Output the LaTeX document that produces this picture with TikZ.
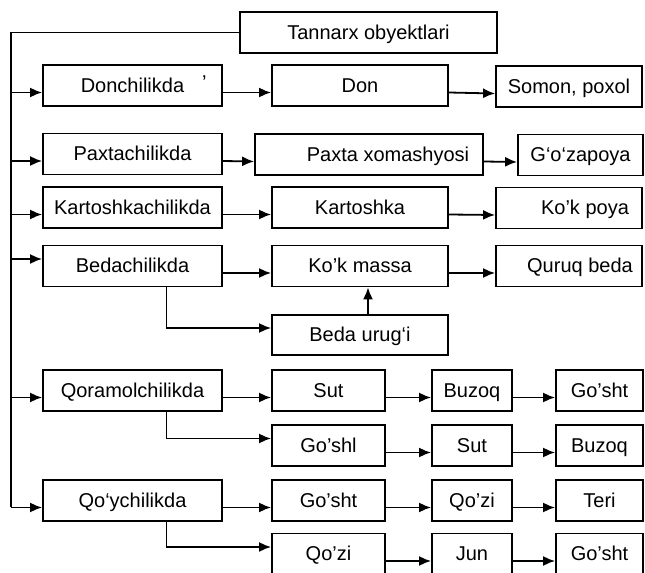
\documentclass[tikz,border=0pt]{standalone}
\usepackage{fontspec}
\setmainfont{Liberation Sans}
\usetikzlibrary{arrows.meta}

\tikzset{
  box/.style={draw, line width=0.9pt, inner sep=1pt, minimum height=20.5pt,
    text height=9pt, text depth=2pt,
    font=\fontsize{10}{12}\selectfont},
  firstcol/.style={box, minimum width=89.5pt},
  secondcol/.style={box, minimum width=88pt},
  thirdcol/.style={box, minimum width=73pt},
  arr/.style={line width=0.9pt, -{Latex[length=6pt,width=5pt]}},
  plain/.style={line width=0.9pt}
}
\newcommand{\arrlo}{-3.5pt}
\newcommand{\arrhi}{3.5pt}

\begin{document}
\begin{tikzpicture}[x=0.5pt,y=-0.5pt]
	\useasboundingbox (0,0) rectangle (645,573);
	\clip (0,0) rectangle (645,573);
	
	\node[box, minimum width=128.5pt] (tannarx) at (368.5,32.5) {Tannarx obyektlari};
	\coordinate (trunk) at (11,0);
	
	% dehqonchilik
	\node[firstcol] (donchi) at (132.5,85.5) {Donchilikda\rlap{\hspace{9pt}\raisebox{1.5pt}{’}}};
	\node[secondcol] (don) at (360,85.5) {Don};
	\node[thirdcol] (somon) at (569,86.5) {Somon, poxol};
	
	\node[firstcol] (paxtachi) at (132.5,154) {Paxtachilikda};
	\node[box, minimum width=114pt] (paxta) at (369,154.5) {\hspace*{19pt}Paxta xomashyosi};
	\node[box, minimum width=62.5pt] (gozapoya) at (580.5,155) {G‘o‘zapoya};
	
	\node[firstcol] (kartochi) at (132.5,207.5) {Kartoshkachilikda};
	\node[secondcol] (kartoshka) at (360,207.5) {Kartoshka};
	\node[thirdcol] (kokpoya) at (569,208) {\hspace*{16pt}Ko’k poya};
	
	\node[firstcol] (bedachi) at (132.5,266) {Bedachilikda};
	\node[secondcol] (kokmassa) at (360,266) {Ko’k massa};
	\node[thirdcol] (quruq) at (569,266) {\hspace*{11pt}Quruq beda};
	\node[secondcol, minimum height=20pt] (urug) at (360,335) {Beda urug‘i};
	
	% chorvachilik
	\node[firstcol] (qoramol) at (132.5,390.5) {Qoramolchilikda};
	\node[box, minimum width=56.5pt] (sutA) at (328.5,390.5) {Sut};
	\node[box, minimum width=40pt] (buzoqA) at (472,390.5) {Buzoq};
	\node[box, minimum width=43.5pt] (goshtA) at (599.5,390.5) {Go’sht};
	
	\node[box, minimum width=56.5pt] (goshtB) at (328.5,445.5) {Go’shl};
	\node[box, minimum width=40pt] (sutB) at (472,445.5) {Sut};
	\node[box, minimum width=43.5pt] (buzoqB) at (599.5,445.5) {Buzoq};
	
	\node[firstcol] (qoy) at (132.5,500.5) {Qo‘ychilikda};
	\node[box, minimum width=56.5pt] (goshtC) at (328.5,500.5) {Go’sht};
	\node[box, minimum width=40pt] (qoziC) at (472,500.5) {Qo’zi};
	\node[box, minimum width=43.5pt] (teri) at (599.5,500.5) {Teri};
	
	\node[box, minimum width=56.5pt] (qoziD) at (328.5,554) {Qo’zi};
	\node[box, minimum width=40pt] (jun) at (472,554) {Jun};
	\node[box, minimum width=43.5pt] (goshtD) at (599.5,554) {Go’sht};
	
	% chap tomondagi chiziq
	\draw[plain] (tannarx.west) -| ([yshift=\arrlo]qoy.west -| trunk);
	\draw[arr] ([yshift=\arrlo]donchi.west -| trunk) -- ([yshift=\arrlo]donchi.west);
	\draw[arr] ([yshift=\arrlo]paxtachi.west -| trunk) -- ([yshift=\arrlo]paxtachi.west);
	\draw[arr] ([yshift=\arrlo]kartochi.west -| trunk) -- ([yshift=\arrlo]kartochi.west);
	\draw[arr] ([yshift=\arrhi]bedachi.west -| trunk) -- ([yshift=\arrhi]bedachi.west);
	\draw[arr] ([yshift=\arrlo]qoramol.west -| trunk) -- ([yshift=\arrlo]qoramol.west);
	\draw[arr] ([yshift=\arrlo]qoy.west -| trunk) -- ([yshift=\arrlo]qoy.west);
	
	\draw[arr] ([yshift=\arrlo]donchi.east) -- ([yshift=\arrlo]don.west);
	\draw[arr] ([yshift=\arrlo]don.east) -- ([yshift=\arrlo]somon.west);
	\draw[arr] ([yshift=\arrlo]paxtachi.east) -- ([yshift=\arrlo]paxta.west);
	\draw[arr] ([yshift=\arrlo]paxta.east) -- ([yshift=\arrlo]gozapoya.west);
	\draw[arr] ([yshift=\arrlo]kartochi.east) -- ([yshift=\arrlo]kartoshka.west);
	\draw[arr] ([yshift=\arrlo]kartoshka.east) -- ([yshift=\arrlo]kokpoya.west);
	\draw[arr] ([yshift=\arrlo]bedachi.east) -- ([yshift=\arrlo]kokmassa.west);
	\draw[arr] ([yshift=\arrlo]kokmassa.east) -- ([yshift=\arrlo]quruq.west);
	\draw[arr] ([xshift=17pt]bedachi.south) |- ([yshift=\arrhi]urug.west);
	\draw[arr] ([xshift=4pt]urug.north) -- ([xshift=4pt]kokmassa.south);
	
	\draw[arr] ([yshift=\arrlo]qoramol.east) -- ([yshift=\arrlo]sutA.west);
	\draw[arr] ([yshift=\arrlo]sutA.east) -- ([yshift=\arrlo]buzoqA.west);
	\draw[arr] ([yshift=\arrlo]buzoqA.east) -- ([yshift=\arrlo]goshtA.west);
	\draw[arr] ([xshift=17pt]qoramol.south) |- ([yshift=\arrhi]goshtB.west);
	\draw[arr] ([yshift=\arrlo]goshtB.east) -- ([yshift=\arrlo]sutB.west);
	\draw[arr] ([yshift=\arrlo]sutB.east) -- ([yshift=\arrlo]buzoqB.west);
	
	\draw[arr] ([yshift=\arrlo]qoy.east) -- ([yshift=\arrlo]goshtC.west);
	\draw[arr] ([yshift=\arrlo]goshtC.east) -- ([yshift=\arrlo]qoziC.west);
	\draw[arr] ([yshift=\arrlo]qoziC.east) -- ([yshift=\arrlo]teri.west);
	\draw[arr] ([xshift=17pt]qoy.south) |- ([yshift=\arrhi]qoziD.west);
	\draw[arr] ([yshift=\arrlo]qoziD.east) -- ([yshift=\arrlo]jun.west);
	\draw[arr] ([yshift=\arrlo]jun.east) -- ([yshift=\arrlo]goshtD.west);
\end{tikzpicture}
\end{document}
